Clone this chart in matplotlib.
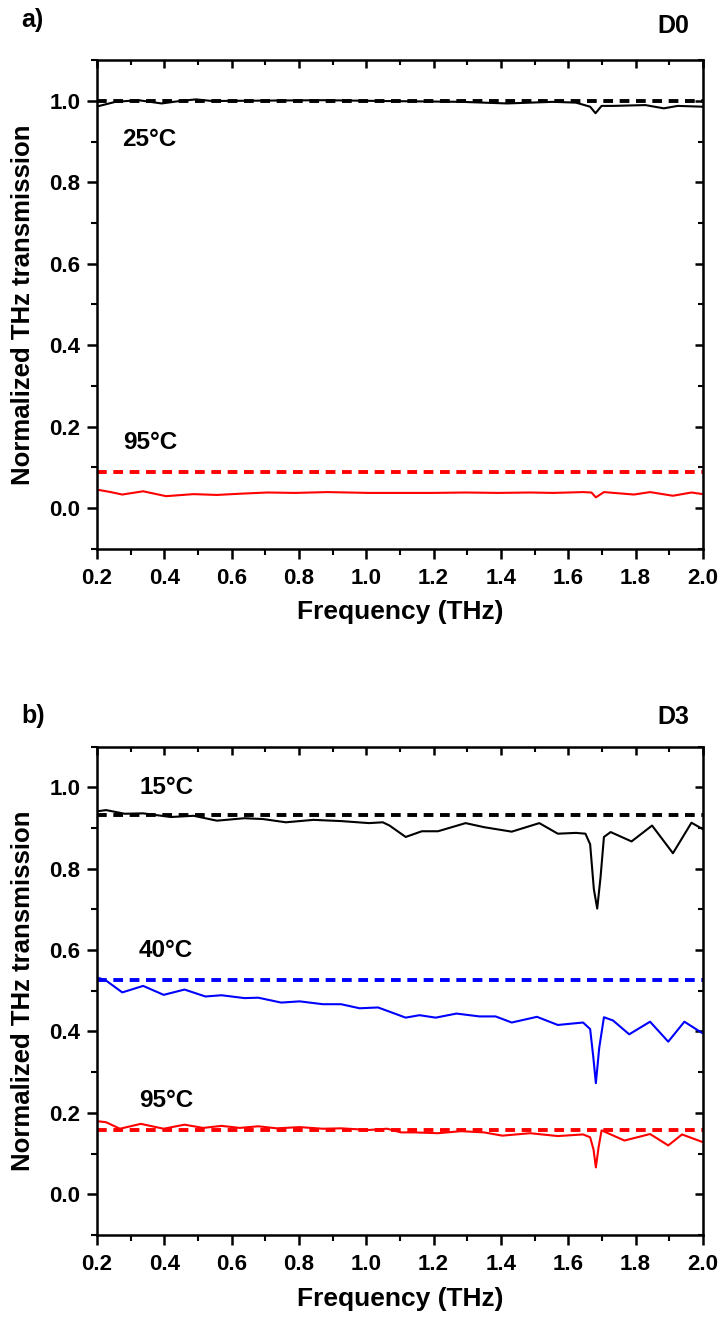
import matplotlib
matplotlib.use("Agg")
import matplotlib.pyplot as plt
from matplotlib.ticker import MultipleLocator

plt.rcParams['font.family'] = ['Liberation Sans', 'DejaVu Sans']
plt.rcParams['font.weight'] = 'bold'

# ---- panel a) D0 ----
fa_black = [0.20, 0.207, 0.255, 0.323, 0.392, 0.446, 0.494, 0.542, 0.70, 0.871, 1.05, 1.281, 1.418, 1.555,
            1.623, 1.665, 1.681, 1.699, 1.733, 1.829, 1.884, 1.925, 2.00]
ta_black = [0.987, 0.988, 0.998, 1.002, 0.994, 1.000, 1.004, 1.000, 1.001, 1.002, 1.000, 0.998, 0.994, 0.998,
            0.996, 0.986, 0.970, 0.988, 0.988, 0.990, 0.982, 0.988, 0.986]
fa_red = [0.20, 0.207, 0.241, 0.275, 0.337, 0.405, 0.487, 0.556, 0.624, 0.706, 0.789, 0.884, 1.008, 1.103,
          1.199, 1.295, 1.391, 1.487, 1.555, 1.644, 1.669, 1.682, 1.706, 1.795, 1.843, 1.911, 1.966, 2.00]
ta_red = [0.044, 0.044, 0.039, 0.033, 0.041, 0.029, 0.034, 0.032, 0.035, 0.038, 0.037, 0.039, 0.037, 0.037,
          0.037, 0.038, 0.037, 0.038, 0.037, 0.039, 0.038, 0.026, 0.039, 0.033, 0.039, 0.030, 0.038, 0.034]
ref_a = {'25°C': 1.0, '95°C': 0.089}

# ---- panel b) D3 ----
fb_black = [0.20, 0.227, 0.282, 0.337, 0.419, 0.487, 0.556, 0.638, 0.693, 0.761, 0.843, 0.925, 1.008, 1.049,
            1.069, 1.117, 1.165, 1.213, 1.295, 1.350, 1.432, 1.514, 1.569, 1.623, 1.651, 1.665, 1.676, 1.686,
            1.696, 1.706, 1.726, 1.788, 1.849, 1.911, 1.966, 2.00]
tb_black = [0.941, 0.944, 0.935, 0.936, 0.927, 0.930, 0.918, 0.924, 0.922, 0.914, 0.920, 0.917, 0.912, 0.914,
            0.906, 0.878, 0.892, 0.892, 0.912, 0.902, 0.891, 0.912, 0.886, 0.888, 0.886, 0.860, 0.750, 0.702,
            0.780, 0.878, 0.890, 0.867, 0.906, 0.838, 0.913, 0.897]
fb_blue = [0.20, 0.207, 0.227, 0.275, 0.337, 0.398, 0.460, 0.522, 0.570, 0.638, 0.679, 0.747, 0.802, 0.871,
           0.925, 0.980, 1.035, 1.117, 1.158, 1.206, 1.268, 1.336, 1.384, 1.432, 1.507, 1.569, 1.644, 1.665,
           1.674, 1.682, 1.692, 1.706, 1.733, 1.781, 1.843, 1.897, 1.945, 2.00]
tb_blue = [0.530, 0.531, 0.525, 0.496, 0.512, 0.490, 0.503, 0.486, 0.489, 0.482, 0.483, 0.471, 0.474, 0.467,
           0.467, 0.457, 0.459, 0.434, 0.440, 0.434, 0.444, 0.437, 0.437, 0.422, 0.436, 0.416, 0.422, 0.406,
           0.340, 0.273, 0.360, 0.435, 0.427, 0.393, 0.424, 0.375, 0.424, 0.395]
fb_red = [0.20, 0.207, 0.227, 0.268, 0.330, 0.398, 0.460, 0.515, 0.570, 0.624, 0.679, 0.734, 0.802, 0.871,
          0.925, 1.008, 1.062, 1.103, 1.144, 1.213, 1.281, 1.350, 1.404, 1.487, 1.569, 1.644, 1.665, 1.675,
          1.682, 1.690, 1.699, 1.767, 1.843, 1.897, 1.938, 2.00]
tb_red = [0.178, 0.179, 0.177, 0.161, 0.173, 0.161, 0.171, 0.163, 0.168, 0.163, 0.167, 0.162, 0.165, 0.161,
          0.162, 0.158, 0.161, 0.152, 0.152, 0.150, 0.155, 0.152, 0.144, 0.150, 0.143, 0.147, 0.140, 0.110,
          0.066, 0.115, 0.157, 0.132, 0.148, 0.120, 0.147, 0.128]
ref_b = {'15°C': 0.931, '40°C': 0.527, '95°C': 0.159}

xticks = [0.2, 0.4, 0.6, 0.8, 1.0, 1.2, 1.4, 1.6, 1.8, 2.0]
yticks = [0.0, 0.2, 0.4, 0.6, 0.8, 1.0]
dash = (0, (2.5, 1.7))


def style_axes(ax):
    ax.set_xlim(0.2, 2.0)
    ax.set_ylim(-0.1, 1.1)
    ax.set_xticks(xticks)
    ax.set_yticks(yticks)
    ax.xaxis.set_minor_locator(MultipleLocator(0.1))
    ax.yaxis.set_minor_locator(MultipleLocator(0.1))
    for s in ax.spines.values():
        s.set_linewidth(1.8)
    ax.tick_params(which='major', direction='out', length=7, width=1.8, labelsize=16, pad=5)
    ax.tick_params(axis='x', which='major', pad=7)
    ax.tick_params(which='minor', direction='out', length=4, width=1.5)
    for lab in ax.get_xticklabels() + ax.get_yticklabels():
        lab.set_fontweight('bold')
    # inward ticks on the top and right sides
    top = ax.secondary_xaxis('top')
    top.set_xticks(xticks)
    top.xaxis.set_minor_locator(MultipleLocator(0.1))
    top.tick_params(which='major', direction='in', length=6, width=1.8, labeltop=False)
    top.tick_params(which='minor', direction='in', length=3.5, width=1.5)
    right = ax.secondary_yaxis('right')
    right.set_yticks(yticks)
    right.yaxis.set_minor_locator(MultipleLocator(0.1))
    right.tick_params(which='major', direction='in', length=6, width=1.8, labelright=False)
    right.tick_params(which='minor', direction='in', length=3.5, width=1.5)
    ax.set_xlabel('Frequency (THz)', fontsize=19, fontweight='bold', labelpad=8)
    ax.set_ylabel('Normalized THz transmission', fontsize=18.5, fontweight='bold', labelpad=10)


fig = plt.figure(figsize=(7.23, 13.17), dpi=100)

ax1 = fig.add_axes([0.1342, 0.5834, 0.838, 0.3708])
ax1.plot(fa_black, ta_black, color='black', lw=1.5)
ax1.plot(fa_red, ta_red, color='red', lw=1.5)
ax1.axhline(ref_a['25°C'], color='black', lw=2.8, ls=dash)
ax1.axhline(ref_a['95°C'], color='red', lw=2.8, ls=dash)
ax1.text(0.275, 0.905, '25°C', fontsize=17.5, fontweight='bold', va='center', ha='left')
ax1.text(0.277, 0.162, '95°C', fontsize=17.5, fontweight='bold', va='center', ha='left')
style_axes(ax1)
fig.text(0.030, 0.985, 'a)', fontsize=18, fontweight='bold', va='center', ha='left')
fig.text(0.954, 0.980, 'D0', fontsize=18, fontweight='bold', va='center', ha='right')

ax2 = fig.add_axes([0.1342, 0.0623, 0.838, 0.3708])
ax2.plot(fb_black, tb_black, color='black', lw=1.5)
ax2.plot(fb_blue, tb_blue, color='blue', lw=1.5)
ax2.plot(fb_red, tb_red, color='red', lw=1.5)
ax2.axhline(ref_b['15°C'], color='black', lw=2.8, ls=dash)
ax2.axhline(ref_b['40°C'], color='blue', lw=2.8, ls=dash)
ax2.axhline(ref_b['95°C'], color='red', lw=2.8, ls=dash)
ax2.text(0.325, 1.0, '15°C', fontsize=17.5, fontweight='bold', va='center', ha='left')
ax2.text(0.325, 0.6, '40°C', fontsize=17.5, fontweight='bold', va='center', ha='left')
ax2.text(0.325, 0.231, '95°C', fontsize=17.5, fontweight='bold', va='center', ha='left')
style_axes(ax2)
fig.text(0.030, 0.4567, 'b)', fontsize=18, fontweight='bold', va='center', ha='left')
fig.text(0.954, 0.4556, 'D3', fontsize=18, fontweight='bold', va='center', ha='right')

fig.savefig('out.png', dpi=100)
